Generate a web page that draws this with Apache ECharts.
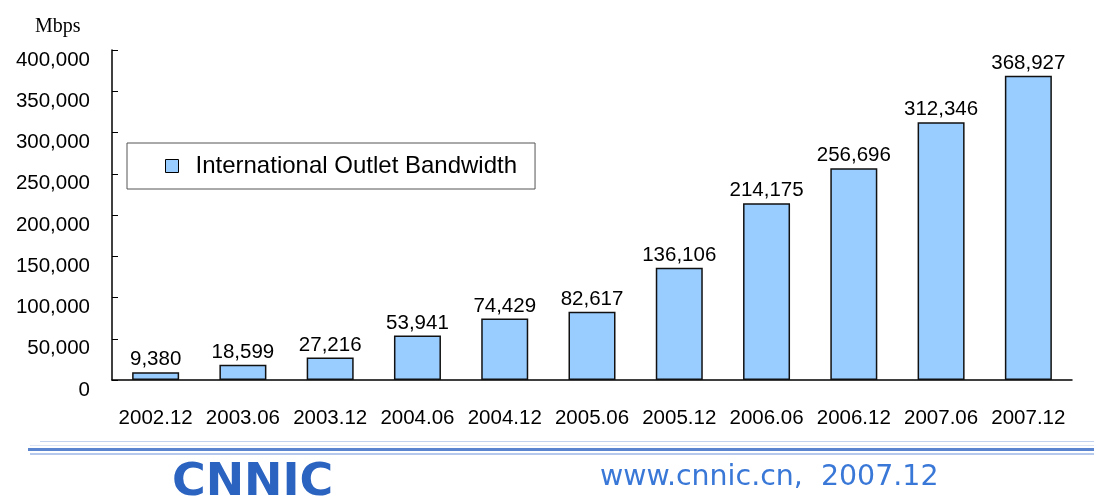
<!DOCTYPE html>
<html>
<head>
<meta charset="utf-8">
<script src="https://cdn.jsdelivr.net/npm/echarts@6/dist/echarts.min.js"></script>
<style>html,body{margin:0;padding:0;background:#fff;}#c{width:1094px;height:500px;}</style>
</head>
<body>
<div id="c"></div>
<script>
var categories = ['2002.12','2003.06','2003.12','2004.06','2004.12','2005.06','2005.12','2006.06','2006.12','2007.06','2007.12'];
var bandwidth = [9380, 18599, 27216, 53941, 74429, 82617, 136106, 214175, 256696, 312346, 368927];
var seriesName = 'International Outlet Bandwidth';
var unitLabel = 'Mbps';
var footerText = 'www.cnnic.cn,  2007.12';
var logoText = 'CNNIC';

function fmt(v){ return String(v).replace(/\B(?=(\d{3})+(?!\d))/g, ','); }

var chart = echarts.init(document.getElementById('c'), null, {renderer:'canvas'});
var font = 'Liberation Sans, Arial, sans-serif';
chart.setOption({
  animation: false,
  backgroundColor: '#fff',
  grid: {left: 112, right: 22, top: 50, bottom: 120, containLabel: false},
  legend: {
    show: true,
    left: 127, top: 143,
    orient: 'horizontal',
    padding: [11, 18, 11, 38],
    borderColor: '#555', borderWidth: 1,
    backgroundColor: '#fff',
    itemWidth: 13, itemHeight: 13,
    icon: 'rect',
    textStyle: {fontFamily: font, fontSize: 24, color: '#000', padding: [0, 0, 0, 12]},
    itemStyle: {borderColor: '#000', borderWidth: 1},
    data: [seriesName]
  },
  xAxis: {
    type: 'category',
    data: categories,
    axisLine: {lineStyle: {color: '#000', width: 1.5}},
    axisTick: {inside: true, length: 6, alignWithLabel: false, lineStyle: {color: '#000', width: 1}},
    axisLabel: {fontFamily: font, fontSize: 20.5, color: '#000', margin: 28, interval: 0},
    splitLine: {show: false}
  },
  yAxis: {
    type: 'value',
    min: 0, max: 400000, interval: 50000,
    axisLine: {show: true, lineStyle: {color: '#000', width: 1.5}},
    axisTick: {show: true, inside: true, length: 6, lineStyle: {color: '#000', width: 1}},
    axisLabel: {fontFamily: font, fontSize: 20.5, color: '#000', margin: 22, verticalAlign: 'top', lineHeight: 20,
      formatter: function(v){return fmt(v);}},
    splitLine: {show: false}
  },
  series: [{
    name: seriesName,
    type: 'bar',
    data: bandwidth,
    barWidth: 47,
    itemStyle: {color: '#99CCFF', borderColor: '#111', borderWidth: 1.5},
    label: {show: true, position: 'top', distance: 2, fontFamily: font, fontSize: 20.5, color: '#000',
      formatter: function(p){return fmt(p.value);}}
  }],
  graphic: [
    {type: 'text', left: 35, top: 17, style: {text: unitLabel, fontFamily: 'Liberation Serif, serif', fontSize: 20, fill: '#000'}},
    {type: 'rect', shape: {x: 40, y: 441, width: 1054, height: 1}, style: {fill: '#c2d3ef'}, silent: true},
    {type: 'rect', shape: {x: 30, y: 445, width: 1064, height: 1}, style: {fill: '#dbe5f5'}, silent: true},
    {type: 'rect', shape: {x: 28, y: 448, width: 1066, height: 3}, style: {fill: '#5b86cf'}, silent: true},
    {type: 'rect', shape: {x: 30, y: 453, width: 1064, height: 2}, style: {fill: '#b5c9ec'}, silent: true},
    {type: 'text', x: 172, y: 462, scaleX: 1.16, style: {text: logoText, fontFamily: 'DejaVu Sans Condensed, DejaVu Sans, sans-serif', fontWeight: 'bold', fontSize: 44, fill: '#2b63c1', textVerticalAlign: 'top'}},
    {type: 'text', x: 600, y: 463, scaleX: 1.09, style: {text: footerText, fontFamily: 'DejaVu Sans Condensed, DejaVu Sans, sans-serif', fontSize: 29, fill: '#3a78d8', textVerticalAlign: 'top'}}
  ]
});
</script>
</body>
</html>
